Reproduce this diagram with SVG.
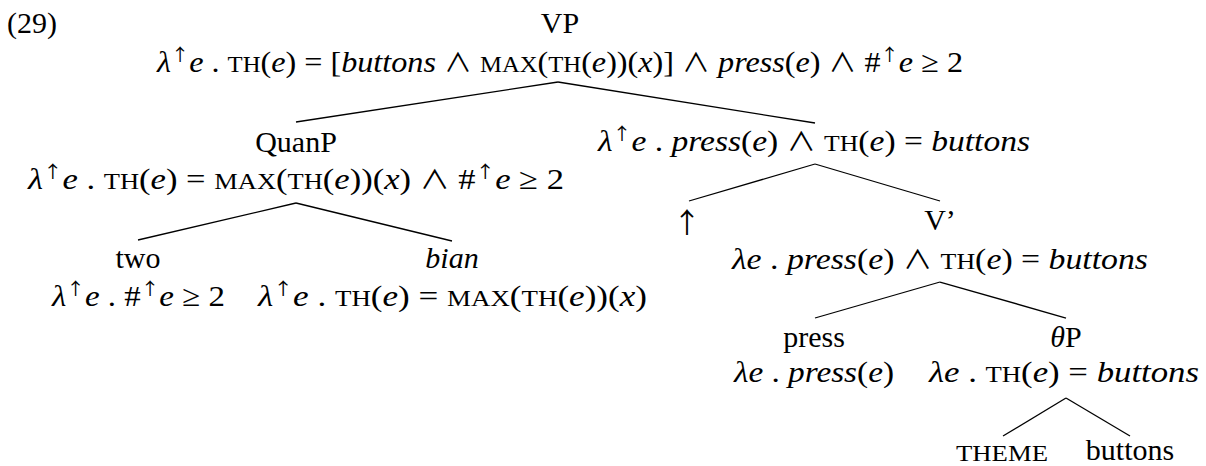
<svg xmlns="http://www.w3.org/2000/svg" width="1206" height="466" viewBox="0 0 1206 466">
<style>
text{font-family:"Liberation Serif","DejaVu Serif",serif;font-size:30px;fill:#000}
.lab{text-anchor:middle}
.i{font-style:italic}
.sc{font-size:23px}
.sup{font-size:17px;font-family:"Noto Sans CJK JP","DejaVu Sans",sans-serif}
.op{font-family:"Noto Sans CJK JP","DejaVu Sans",sans-serif;font-size:26px}
.arr{font-family:"Noto Sans CJK JP","DejaVu Sans",sans-serif;font-size:28px}
.conn line{stroke:#000;stroke-width:1.3}
</style>
<rect width="1206" height="466" fill="#fff"/>
<g id="connectors" class="conn">
<line x1="558" y1="82" x2="296" y2="122"/>
<line x1="558" y1="82" x2="815" y2="123"/>
<line x1="296" y1="203" x2="138" y2="240"/>
<line x1="296" y1="203" x2="452" y2="241"/>
<line x1="815" y1="164" x2="689" y2="201"/>
<line x1="815" y1="164" x2="940" y2="201"/>
<line x1="940" y1="282" x2="815" y2="318"/>
<line x1="940" y1="282" x2="1066" y2="318"/>
<line x1="1066" y1="398" x2="1003" y2="436"/>
<line x1="1066" y1="398" x2="1130" y2="436"/>
</g>
<g id="example-number"><text x="7" y="33">(29)</text></g>
<g id="node-VP">
<text class="lab" x="560" y="33">VP</text>
<text x="157" y="72" textLength="806" lengthAdjust="spacingAndGlyphs"><tspan class="i">λ</tspan><tspan class="sup" dy="-11">↑</tspan><tspan class="i" dy="11">e</tspan> . <tspan class="sc">TH</tspan>(<tspan class="i">e</tspan>) = [<tspan class="i">buttons</tspan> <tspan class="op">∧</tspan> <tspan class="sc">MAX</tspan>(<tspan class="sc">TH</tspan>(<tspan class="i">e</tspan>))(<tspan class="i">x</tspan>)] <tspan class="op">∧</tspan> <tspan class="i">press</tspan>(<tspan class="i">e</tspan>) <tspan class="op">∧</tspan> #<tspan class="sup" dy="-11">↑</tspan><tspan class="i" dy="11">e</tspan> ≥ 2</text>
</g>
<g id="node-QuanP">
<text class="lab" x="296" y="152">QuanP</text>
<text x="28" y="189" textLength="536" lengthAdjust="spacingAndGlyphs"><tspan class="i">λ</tspan><tspan class="sup" dy="-11">↑</tspan><tspan class="i" dy="11">e</tspan> . <tspan class="sc">TH</tspan>(<tspan class="i">e</tspan>) = <tspan class="sc">MAX</tspan>(<tspan class="sc">TH</tspan>(<tspan class="i">e</tspan>))(<tspan class="i">x</tspan>) <tspan class="op">∧</tspan> #<tspan class="sup" dy="-11">↑</tspan><tspan class="i" dy="11">e</tspan> ≥ 2</text>
</g>
<g id="node-upper-bar">
<text x="598" y="151" textLength="432" lengthAdjust="spacingAndGlyphs"><tspan class="i">λ</tspan><tspan class="sup" dy="-11">↑</tspan><tspan class="i" dy="11">e</tspan> . <tspan class="i">press</tspan>(<tspan class="i">e</tspan>) <tspan class="op">∧</tspan> <tspan class="sc">TH</tspan>(<tspan class="i">e</tspan>) = <tspan class="i">buttons</tspan></text>
</g>
<g id="node-two">
<text class="lab" x="138" y="268">two</text>
<text x="52" y="306" textLength="173" lengthAdjust="spacingAndGlyphs"><tspan class="i">λ</tspan><tspan class="sup" dy="-11">↑</tspan><tspan class="i" dy="11">e</tspan> . #<tspan class="sup" dy="-11">↑</tspan><tspan class="i" dy="11">e</tspan> ≥ 2</text>
</g>
<g id="node-bian">
<text class="lab i" x="452" y="268">bian</text>
<text x="258" y="306" textLength="389" lengthAdjust="spacingAndGlyphs"><tspan class="i">λ</tspan><tspan class="sup" dy="-11">↑</tspan><tspan class="i" dy="11">e</tspan> . <tspan class="sc">TH</tspan>(<tspan class="i">e</tspan>) = <tspan class="sc">MAX</tspan>(<tspan class="sc">TH</tspan>(<tspan class="i">e</tspan>))(<tspan class="i">x</tspan>)</text>
</g>
<g id="node-up">
<text class="lab arr" x="687" y="233">↑</text>
</g>
<g id="node-Vbar">
<text class="lab" x="940" y="230">V’</text>
<text x="732" y="269" textLength="416" lengthAdjust="spacingAndGlyphs"><tspan class="i">λe</tspan> . <tspan class="i">press</tspan>(<tspan class="i">e</tspan>) <tspan class="op">∧</tspan> <tspan class="sc">TH</tspan>(<tspan class="i">e</tspan>) = <tspan class="i">buttons</tspan></text>
</g>
<g id="node-press">
<text class="lab" x="814" y="347">press</text>
<text x="734" y="382" textLength="160" lengthAdjust="spacingAndGlyphs"><tspan class="i">λe</tspan> . <tspan class="i">press</tspan>(<tspan class="i">e</tspan>)</text>
</g>
<g id="node-thetaP">
<text class="lab" x="1066" y="347"><tspan class="i">θ</tspan>P</text>
<text x="929" y="382" textLength="270" lengthAdjust="spacingAndGlyphs"><tspan class="i">λe</tspan> . <tspan class="sc">TH</tspan>(<tspan class="i">e</tspan>) = <tspan class="i">buttons</tspan></text>
</g>
<g id="node-THEME">
<text x="956" y="461" class="sc" textLength="92" lengthAdjust="spacingAndGlyphs">THEME</text>
</g>
<g id="node-buttons">
<text class="lab" x="1130" y="460">buttons</text>
</g>
</svg>
